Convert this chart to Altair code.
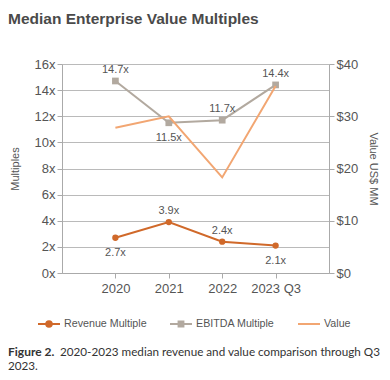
import altair as alt
import pandas as pd

periods = ["2020", "2021", "2022", "2023 Q3"]
revenue_multiple = [2.7, 3.9, 2.4, 2.1]
ebitda_multiple = [14.7, 11.5, 11.7, 14.4]
value_usd_mm = [27.8, 30.0, 18.3, 35.8]
revenue_label_side = ["below", "above", "above", "below"]
ebitda_label_side = ["above", "below", "above", "above"]
series_names = ["Revenue Multiple", "EBITDA Multiple", "Value"]
series_colors = ["#D0692A", "#B2A99F", "#F2A672"]

title_text = "Median Enterprise Value Multiples"
caption_bold = "Figure 2."
caption_line1 = "2020-2023 median revenue and value comparison through Q3"
caption_line2 = "2023."

rows = []
for i, p in enumerate(periods):
    rows.append({"period": p, "series": series_names[0], "v": revenue_multiple[i],
                 "label": f"{revenue_multiple[i]:.1f}x", "side": revenue_label_side[i]})
    rows.append({"period": p, "series": series_names[1], "v": ebitda_multiple[i],
                 "label": f"{ebitda_multiple[i]:.1f}x", "side": ebitda_label_side[i]})
mult = pd.DataFrame(rows)
val = pd.DataFrame({"period": periods, "series": series_names[2], "v": value_usd_mm})

x_enc = alt.X("period:N", sort=periods, title=None,
              scale=alt.Scale(type="point", padding=1),
              axis=alt.Axis(labelAngle=0, labelFontSize=13, labelColor="#555",
                            domainColor="#aaa", tickColor="#aaa", tickSize=5,
                            labelPadding=4, grid=False))
color_scale = alt.Scale(domain=series_names, range=series_colors)

legend_paths = [
    "M-1,0H1M-0.25,0A0.25,0.25 0 1 0 0.25,0A0.25,0.25 0 1 0 -0.25,0M-0.1,0A0.1,0.1 0 1 0 0.1,0A0.1,0.1 0 1 0 -0.1,0",
    "M-1,0H1M-0.22,-0.22H0.22V0.22H-0.22ZM-0.08,-0.08H0.08V0.08H-0.08Z",
    "M-1,0H1",
]

legend = alt.Legend(orient="none", legendX=-25, legendY=248, direction="horizontal",
                    title=None, labelFontSize=10.7, labelColor="#555", labelFont="Liberation Sans",
                    symbolSize=484, symbolStrokeWidth=2, columnPadding=19, labelOffset=3,
                    gridAlign="none")

y_left = alt.Y("v:Q", title="Multiples",
               scale=alt.Scale(domain=[0, 16], nice=False),
               axis=alt.Axis(values=[0, 2, 4, 6, 8, 10, 12, 14, 16], labelExpr="datum.value + 'x'",
                             labelFontSize=13, labelColor="#555", domainColor="#aaa",
                             tickColor="#aaa", tickSize=5, gridColor="#bababa", gridWidth=1.2,
                             titleFontSize=11, titleFontWeight="normal", titleColor="#555",
                             titlePadding=14))

col = alt.Color("series:N", scale=color_scale, legend=legend)

base = alt.Chart(mult)
legend_layer = base.transform_filter("false").mark_point(filled=False, strokeWidth=2, opacity=1).encode(
    x=x_enc, y=y_left, color=col,
    shape=alt.Shape("series:N", scale=alt.Scale(domain=series_names, range=legend_paths), legend=legend))
lines = base.mark_line(strokeWidth=2).encode(x=x_enc, y=y_left, color=col)
rev_pts = base.transform_filter(alt.datum.series == series_names[0]).mark_point(
    filled=True, opacity=1, size=40, shape="circle").encode(x=x_enc, y=y_left, color=col)
ebd_pts = base.transform_filter(alt.datum.series == series_names[1]).mark_point(
    filled=True, opacity=1, size=45, shape="square").encode(x=x_enc, y=y_left, color=col)
lab_above = base.transform_filter(alt.datum.side == "above").mark_text(
    dy=-11, fontSize=11, color="#555", font="Liberation Sans").encode(x=x_enc, y=y_left, text="label:N")
lab_below = base.transform_filter(alt.datum.side == "below").mark_text(
    dy=15, fontSize=11, color="#555", font="Liberation Sans").encode(x=x_enc, y=y_left, text="label:N")

cap_df = pd.DataFrame({"b": [caption_bold], "l1": [caption_line1], "l2": [caption_line2]})
cap_b = alt.Chart(cap_df).mark_text(align="left", baseline="middle", font="Lato", fontWeight="bold",
                                    fontSize=12, color="#333").encode(
    text="b:N", x=alt.value(-54), y=alt.value(288))
cap_1 = alt.Chart(cap_df).mark_text(align="left", baseline="middle", font="Lato",
                                    fontSize=11.7, color="#333").encode(
    text="l1:N", x=alt.value(-2), y=alt.value(288))
cap_2 = alt.Chart(cap_df).mark_text(align="left", baseline="middle", font="Lato",
                                    fontSize=11.7, color="#333").encode(
    text="l2:N", x=alt.value(-54), y=alt.value(302))

left = alt.layer(legend_layer, lines, rev_pts, ebd_pts, lab_above, lab_below, cap_b, cap_1, cap_2)

right = alt.Chart(val).mark_line(strokeWidth=2).encode(
    x=x_enc,
    y=alt.Y("v:Q", title="Value US$ MM", scale=alt.Scale(domain=[0, 40], nice=False),
            axis=alt.Axis(values=[0, 10, 20, 30, 40], labelExpr="'$' + datum.value", grid=False,
                          labelFontSize=13, labelColor="#555", domainColor="#aaa",
                          tickColor="#aaa", tickSize=5, titleFontSize=11,
                          titleFontWeight="normal", titleColor="#555", titlePadding=10)),
    color=col)

chart = alt.layer(left, right).resolve_scale(y="independent").properties(
    width=267, height=209,
    autosize=alt.AutoSizeParams(type="none"),
    padding={"left": 54, "top": 56, "right": 53, "bottom": 99},
    title=alt.Title(title_text, anchor="start", frame="group", fontSize=15.5, fontWeight="bold",
                    color="#4a4a4a", font="Liberation Sans", dx=-54, offset=31),
).configure_view(stroke=None).configure(font="Liberation Sans")

chart.save("out.html", embed_options={"renderer": "svg", "actions": False})
